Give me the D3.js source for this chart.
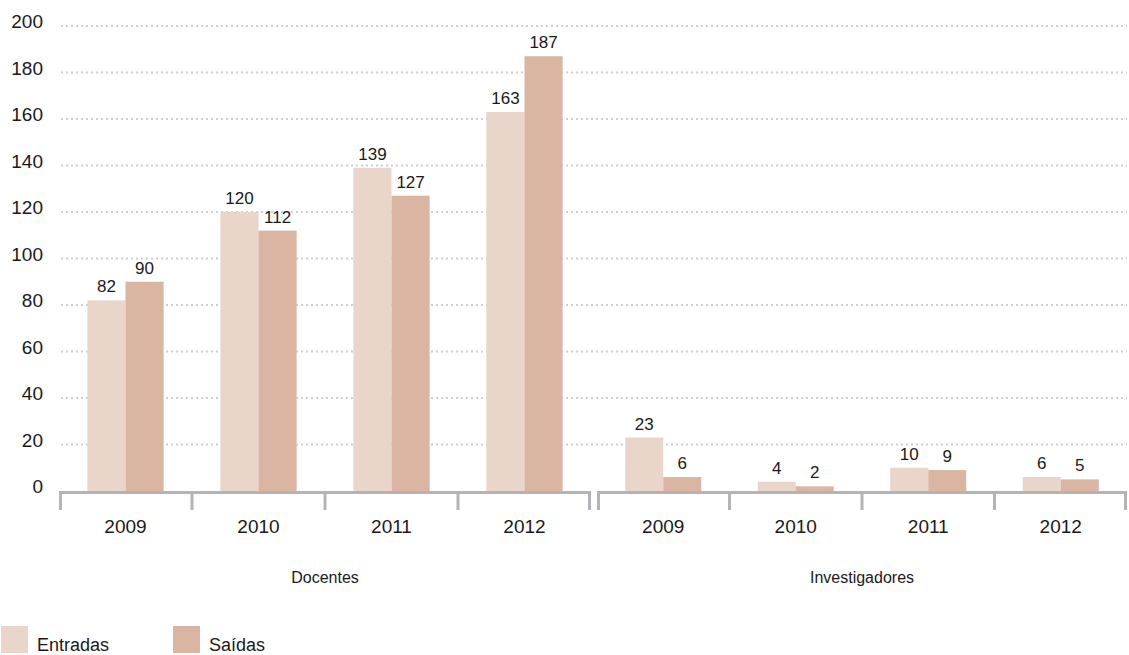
<!DOCTYPE html>
<html>
<head>
<meta charset="utf-8">
<script src="https://cdn.jsdelivr.net/npm/d3@7"></script>
<style>
  html, body { margin: 0; padding: 0; background: #fff; }
  svg { display: block; font-family: "Liberation Sans", Arial, sans-serif; }
</style>
</head>
<body>
<svg id="chart" width="1129" height="655"></svg>
<script>
// Movimentos de pessoal por ano
const groups = ["Docentes", "Investigadores"];
const years = ["2009", "2010", "2011", "2012"];
const seriesNames = ["Entradas", "Saídas"];
const docentesEntradas = [82, 120, 139, 163];
const docentesSaidas = [90, 112, 127, 187];
const investigadoresEntradas = [23, 4, 10, 6];
const investigadoresSaidas = [6, 2, 9, 5];
const yTicks = [0, 20, 40, 60, 80, 100, 120, 140, 160, 180, 200];
const colors = ["#e9d5ca", "#d9b5a2"];

const values = {
  "Docentes": [docentesEntradas, docentesSaidas],
  "Investigadores": [investigadoresEntradas, investigadoresSaidas]
};

const svg = d3.select("#chart");
const axisColor = "#b4b4b8";
const textColor = "#1a1a1a";

const y = d3.scaleLinear().domain([0, 200]).range([491, 26]);

// group panels
const panel = d3.scaleOrdinal().domain(groups).range([[59, 591], [597, 1127]]);

// gridlines
svg.append("g")
  .selectAll("line")
  .data(yTicks.filter(d => d > 0))
  .join("line")
  .attr("x1", 61).attr("x2", 1127)
  .attr("y1", d => y(d)).attr("y2", d => y(d))
  .attr("stroke", "#cfcfcf")
  .attr("stroke-width", 2)
  .attr("stroke-dasharray", "2,3");

// y labels
svg.append("g")
  .selectAll("text")
  .data(yTicks)
  .join("text")
  .attr("x", 43)
  .attr("y", d => y(d) + 2)
  .attr("text-anchor", "end")
  .attr("font-size", 19)
  .attr("fill", textColor)
  .text(d => d);

groups.forEach(g => {
  const [x0, x1] = panel(g);
  const x = d3.scaleBand().domain(years).range([x0, x1]).paddingInner(0.4264).paddingOuter(0.2132);
  const xs = d3.scaleBand().domain(seriesNames).range([0, x.bandwidth()]);
  const gg = svg.append("g");

  const rows = [];
  seriesNames.forEach((s, si) => {
    years.forEach((yr, yi) => rows.push({ s, si, yr, v: values[g][si][yi] }));
  });

  gg.selectAll("rect")
    .data(rows)
    .join("rect")
    .attr("x", d => x(d.yr) + xs(d.s))
    .attr("width", xs.bandwidth())
    .attr("y", d => y(d.v))
    .attr("height", d => y(0) - y(d.v))
    .attr("fill", d => colors[d.si]);

  gg.selectAll("text.val")
    .data(rows)
    .join("text")
    .attr("class", "val")
    .attr("x", d => x(d.yr) + xs(d.s) + xs.bandwidth() / 2)
    .attr("y", d => y(d.v) - 8)
    .attr("text-anchor", "middle")
    .attr("font-size", 17)
    .attr("fill", textColor)
    .text(d => d.v);

  // baseline and separators
  gg.append("line")
    .attr("x1", x0).attr("x2", x1)
    .attr("y1", 492.5).attr("y2", 492.5)
    .attr("stroke", axisColor).attr("stroke-width", 3);

  const step = x.step();
  const bounds = d3.range(years.length + 1).map(i => x0 + i * step);
  gg.selectAll("line.tick")
    .data(bounds)
    .join("line")
    .attr("class", "tick")
    .attr("x1", d => Math.min(Math.max(d, x0 + 1.5), x1 - 1.5))
    .attr("x2", d => Math.min(Math.max(d, x0 + 1.5), x1 - 1.5))
    .attr("y1", 491).attr("y2", 510)
    .attr("stroke", axisColor).attr("stroke-width", 3);

  gg.selectAll("text.year")
    .data(years)
    .join("text")
    .attr("class", "year")
    .attr("x", d => x(d) + x.bandwidth() / 2)
    .attr("y", 533)
    .attr("text-anchor", "middle")
    .attr("font-size", 19)
    .attr("fill", textColor)
    .text(d => d);

  gg.append("text")
    .attr("x", (x0 + x1) / 2)
    .attr("y", 583)
    .attr("text-anchor", "middle")
    .attr("font-size", 16)
    .attr("fill", textColor)
    .text(g);
});

// legend
const legendX = [1, 173];
const leg = svg.append("g");
seriesNames.forEach((s, i) => {
  leg.append("rect")
    .attr("x", legendX[i]).attr("y", 626)
    .attr("width", 27).attr("height", 27)
    .attr("fill", colors[i]);
  leg.append("text")
    .attr("x", legendX[i] + 36).attr("y", 651)
    .attr("font-size", 18)
    .attr("fill", textColor)
    .text(s);
});
</script>
</body>
</html>
